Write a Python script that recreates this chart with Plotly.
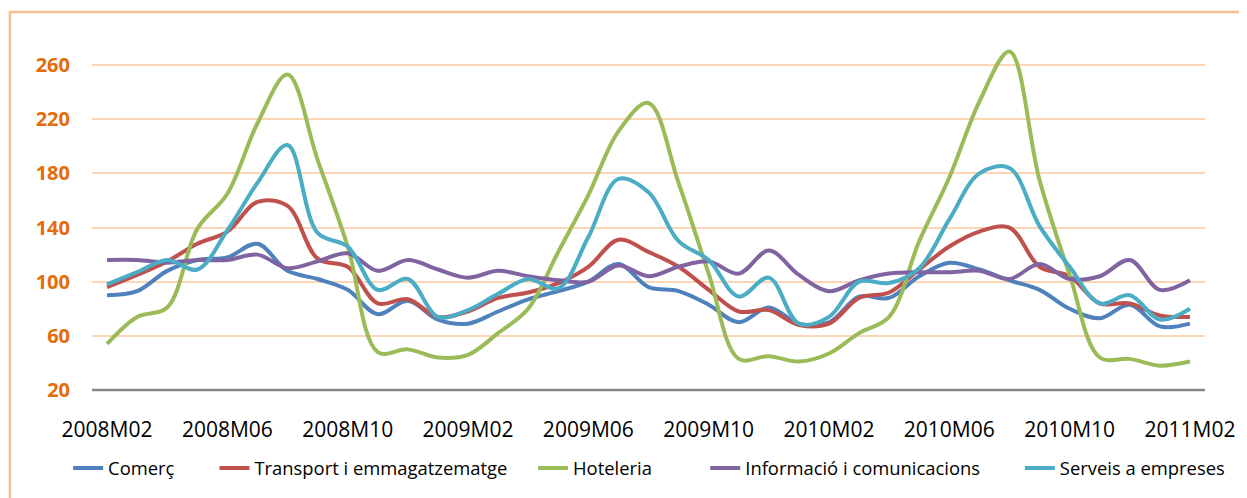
import plotly.graph_objects as go

months = ["2008M02", "2008M03", "2008M04", "2008M05", "2008M06", "2008M07", "2008M08",
          "2008M09", "2008M10", "2008M11", "2008M12", "2009M01", "2009M02", "2009M03",
          "2009M04", "2009M05", "2009M06", "2009M07", "2009M08", "2009M09", "2009M10",
          "2009M11", "2009M12", "2010M01", "2010M02", "2010M03", "2010M04", "2010M05",
          "2010M06", "2010M07", "2010M08", "2010M09", "2010M10", "2010M11", "2010M12",
          "2011M01", "2011M02"]

tick_labels = ["2008M02", "2008M06", "2008M10", "2009M02", "2009M06", "2009M10",
               "2010M02", "2010M06", "2010M10", "2011M02"]

comerc = [90, 93, 108, 116, 118, 128, 108, 102, 94, 76,
          86, 72, 69, 78, 87, 93, 100, 113, 96, 93,
          83, 70, 81, 69, 70, 89, 88, 104, 114, 109,
          101, 94, 80, 73, 83, 67, 69]

transport = [96, 105, 115, 128, 137, 159, 156, 117, 111, 84,
             87, 74, 78, 88, 92, 99, 111, 131, 122, 111,
             94, 78, 79, 68, 69, 88, 92, 109, 126, 137,
             140, 111, 104, 84, 84, 75, 74]

hoteleria = [54, 74, 81, 139, 165, 217, 253, 190, 126, 48,
             50, 44, 46, 62, 80, 122, 164, 211, 232, 173,
             106, 43, 45, 41, 47, 62, 74, 130, 177, 233,
             270, 175, 105, 44, 43, 38, 41]

informacio = [116, 116, 114, 116, 116, 120, 110, 115, 121, 108,
              116, 109, 103, 108, 104, 101, 100, 112, 104, 111,
              115, 106, 123, 105, 93, 101, 106, 107, 107, 108,
              102, 113, 102, 104, 116, 94, 101]

serveis = [98, 107, 116, 109, 138, 173, 201, 136, 126, 94,
           102, 74, 79, 91, 102, 95, 133, 176, 166, 130,
           116, 89, 103, 69, 74, 100, 99, 110, 146, 180,
           184, 141, 111, 84, 90, 72, 80]

series_names = ["Comerç", "Transport i emmagatzematge", "Hoteleria",
                "Informació i comunicacions", "Serveis a empreses"]
series_values = [comerc, transport, hoteleria, informacio, serveis]
series_colors = ["#4F81BD", "#C0504D", "#9BBB59", "#8064A2", "#4BACC6"]

# page-pixel x where each legend label text starts (reference layout)
legend_text_x = [108, 255, 575, 748, 1064]

# The page body has an 8px margin; the figure is sized to fill the rest.
OFF = 8
W, H = 1247 - OFF, 498 - OFF
L, R, T, B = 92 - OFF, 37, 38 - OFF, 108
pw = W - L - R
ph = H - T - B

legend_ids = ["legend", "legend2", "legend3", "legend4", "legend5"]

fig = go.Figure()
for name, vals, color, lid in zip(series_names, series_values, series_colors, legend_ids):
    fig.add_trace(go.Scatter(
        x=months, y=vals, name=name, mode="lines", legend=lid,
        line=dict(color=color, width=4, shape="spline", smoothing=1.0),
    ))

legend_layout = {}
for lid, tx in zip(legend_ids, legend_text_x):
    legend_layout[lid] = dict(
        orientation="h", x=(tx - 40 - (L + OFF)) / pw, xanchor="left",
        y=(390 - 468) / ph, yanchor="middle",
        font=dict(family="Open Sans", size=18.4, color="#000000"),
        bgcolor="rgba(0,0,0,0)", borderwidth=0,
    )

fig.update_layout(
    width=W, height=H,
    margin=dict(l=L, r=R, t=T, b=B, pad=0),
    paper_bgcolor="white", plot_bgcolor="white",
    font=dict(family="Open Sans", color="#000000"),
    showlegend=True,
    xaxis=dict(
        type="category", categoryorder="array", categoryarray=months,
        range=[-0.5, len(months) - 0.5],
        tickmode="array", tickvals=tick_labels, ticktext=tick_labels,
        showgrid=False, zeroline=False, showline=False, ticks="",
        tickfont=dict(family="Open Sans", size=21, color="#000000"),
        ticklabelstandoff=25,
    ),
    yaxis=dict(
        range=[20, 280], tickmode="array", tickvals=[20, 60, 100, 140, 180, 220, 260],
        showgrid=True, gridcolor="#FCD5B5", gridwidth=2,
        zeroline=False, showline=False, ticks="",
        tickfont=dict(family="Open Sans", size=20, color="#E46C0A", weight="bold"),
        ticklabelstandoff=21,
    ),
    **legend_layout,
)

# baseline axis line (gray) at the bottom of the plot area
fig.add_shape(type="line", xref="paper", yref="paper", x0=0, x1=1, y0=0, y1=0,
              line=dict(color="#868686", width=2.5), layer="above")

# chart outer border (extends beyond the visible window right/bottom)
fig.add_shape(type="rect", xref="paper", yref="paper",
              x0=(1.5 - L) / pw, x1=(W + 20 - L) / pw,
              y0=(-(H - T - ph) - 20) / ph, y1=(ph + T - 4) / ph,
              line=dict(color="#F9BE8E", width=2.5), fillcolor="rgba(0,0,0,0)", layer="below")

fig.write_html("out.html")
